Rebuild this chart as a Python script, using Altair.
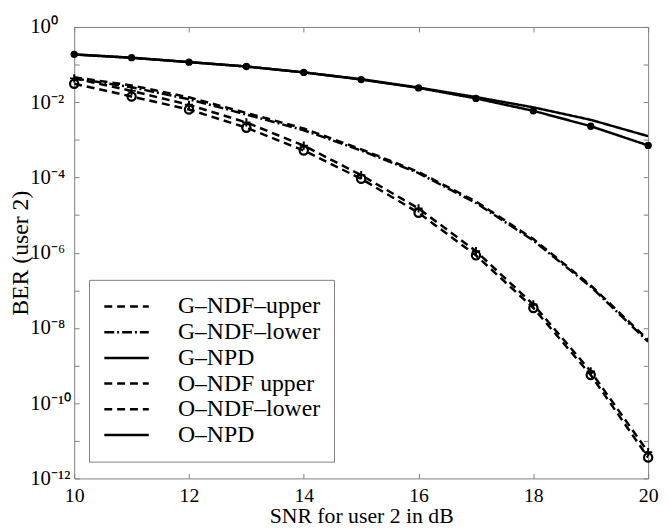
import math
import altair as alt
import pandas as pd

SNR = [10, 11, 12, 13, 14, 15, 16, 17, 18, 19, 20]

SERIES = ["G–NDF–upper", "G–NDF–lower", "G–NPD", "O–NDF upper", "O–NDF–lower", "O–NPD"]

G_NDF_UPPER = [0.046, 0.028, 0.0135, 0.0052, 0.0020, 5.6e-4, 1.4e-4, 2.3e-5, 2.3e-6, 1.35e-7, 4.8e-9]
G_NDF_LOWER = [0.043, 0.025, 0.0120, 0.0047, 0.0018, 5.2e-4, 1.3e-4, 2.1e-5, 2.1e-6, 1.25e-7, 4.3e-9]
G_NPD = [0.185, 0.151, 0.117, 0.089, 0.062, 0.041, 0.0245, 0.0137, 0.0073, 0.0034, 0.00125]
O_NDF_UPPER = [0.043, 0.020, 0.0085, 0.0029, 7.0e-4, 1.15e-4, 1.5e-5, 1.1e-6, 4.2e-8, 7.0e-10, 5.0e-12]
O_NDF_LOWER = [0.031, 0.0142, 0.0064, 0.0021, 5.2e-4, 9.2e-5, 1.15e-5, 8.5e-7, 3.4e-8, 5.6e-10, 3.6e-12]
O_NPD = [0.187, 0.153, 0.116, 0.089, 0.062, 0.040, 0.024, 0.0126, 0.0059, 0.0023, 7.1e-4]

X_TICKS = [10, 12, 14, 16, 18, 20]
Y_TICKS = [1e0, 1e-1, 1e-2, 1e-3, 1e-4, 1e-5, 1e-6, 1e-7, 1e-8, 1e-9, 1e-10, 1e-11, 1e-12]
Y_TICK_LABELS = ["10⁰", "", "10⁻²", "", "10⁻⁴", "", "10⁻⁶", "", "10⁻⁸", "", "10⁻¹⁰", "", "10⁻¹²"]

DASHES = [[8, 5], [10, 3, 2, 3], [1, 0], [8, 5], [8, 5], [1, 0]]

rows = []
for name, vals in zip(SERIES, [G_NDF_UPPER, G_NDF_LOWER, G_NPD, O_NDF_UPPER, O_NDF_LOWER, O_NPD]):
    for x, v in zip(SNR, vals):
        rows.append({"snr": x, "ber": v, "series": name})
df = pd.DataFrame(rows)

# label expression for y ticks
exp_expr = "round(log(datum.value)/LN10)"
label_expr = ""
for v, lab in zip(Y_TICKS, Y_TICK_LABELS):
    e = round(math.log10(v))
    label_expr += f"{exp_expr} == {e} ? '{lab}' : "
label_expr += "''"

FONT = "Liberation Serif"
GRAY = "#808080"

x_scale = alt.Scale(domain=[10, 20], nice=False)
y_scale = alt.Scale(type="log", domain=[1e-12, 1], nice=False)

x_axis = alt.Axis(values=X_TICKS, title="SNR for user 2 in dB", grid=False, domain=False,
                  offset=-5, tickSize=5, tickColor=GRAY, labelPadding=7,
                  labelFont=FONT, labelFontSize=20, labelColor="black", labelFlush=False,
                  titleFont=FONT, titleFontSize=22, titleFontWeight="normal", titlePadding=1,
                  titleColor="black", format="d")
y_axis = alt.Axis(values=Y_TICKS, title="BER (user 2)", grid=False, domain=False,
                  offset=-5, tickSize=5, tickColor=GRAY, labelPadding=45, labelAlign="left",
                  labelFont=FONT, labelFontSize=21, labelColor="black", labelExpr=label_expr,
                  labelFlush=False, labelOverlap=False,
                  titleFont=FONT, titleFontSize=24, titleFontWeight="normal",
                  titleX=-59, titleBaseline="middle", titleAngle=270,
                  titleColor="black")

lines = alt.Chart(df).mark_line(strokeWidth=2.5, color="black", clip=True).encode(
    x=alt.X("snr:Q", scale=x_scale, axis=x_axis),
    y=alt.Y("ber:Q", scale=y_scale, axis=y_axis),
    strokeDash=alt.StrokeDash(
        "series:N",
        scale=alt.Scale(domain=SERIES, range=DASHES),
        legend=alt.Legend(
            title=None, orient="none", legendX=15, legendY=256,
            symbolType="stroke", symbolSize=2025, symbolStrokeWidth=2.5,
            symbolStrokeColor="black", clipHeight=26, rowPadding=0,
            labelFont=FONT, labelFontSize=24, labelColor="black", labelLimit=400,
            labelOffset=28, padding=14, strokeColor=GRAY, fillColor="white",
        ),
    ),
)

def pts(name):
    return alt.Chart(df).transform_filter(alt.datum.series == name)

enc = dict(
    x=alt.X("snr:Q", scale=x_scale, axis=None),
    y=alt.Y("ber:Q", scale=y_scale, axis=None),
)

plus = pts("O–NDF upper").mark_point(shape="M-1,0L1,0M0,-1L0,1", size=70, strokeWidth=2,
                                      color="black", filled=False, opacity=1).encode(**enc)
circ = pts("O–NDF–lower").mark_point(shape="circle", size=70, strokeWidth=2.2,
                                      color="black", filled=False, opacity=1).encode(**enc)
dots = pts("O–NPD").mark_point(shape="circle", size=55, color="black",
                                filled=True, opacity=1).encode(**enc)

frame = alt.Chart(df).mark_point(opacity=0).encode(
    x=alt.X("snr:Q", scale=x_scale,
            axis=alt.Axis(orient="top", values=X_TICKS, labels=False, title=None, grid=False,
                          domain=False, offset=-5, tickSize=5, tickColor=GRAY)),
    y=alt.Y("ber:Q", scale=y_scale,
            axis=alt.Axis(orient="right", values=Y_TICKS, labels=False, title=None, grid=False,
                          domain=False, offset=-5, tickSize=5, tickColor=GRAY)),
)

chart = alt.layer(lines, plus, circ, dots, frame).resolve_axis(
    x="independent", y="independent"
).properties(
    width=581, height=457,
    autosize=alt.AutoSizeParams(type="none"),
    padding={"left": 67, "top": 16, "right": 12, "bottom": 48},
).configure_view(stroke=GRAY, strokeWidth=1)

chart.save("out.html", embed_options={"renderer": "svg", "actions": False})
